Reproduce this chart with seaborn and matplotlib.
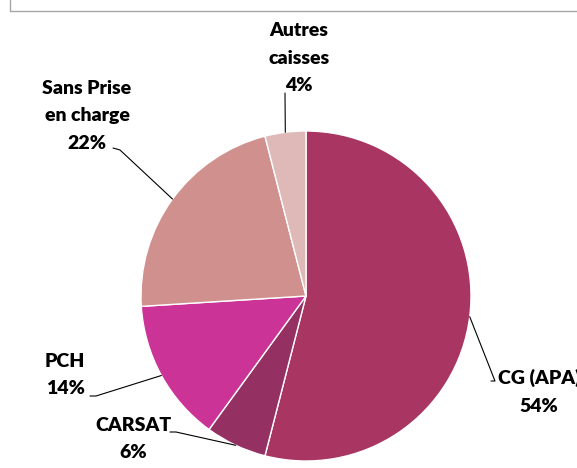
import numpy as np
import matplotlib
matplotlib.use("Agg")
import matplotlib.pyplot as plt
import seaborn as sns

# data
labels = ["CG (APA)", "CARSAT", "PCH", "Sans Prise\nen charge", "Autres\ncaisses"]
shares = [54, 6, 14, 22, 4]
colors = ["#A83562", "#953063", "#CB3397", "#D0908E", "#DFB8B8"]

sns.set_style("white")
plt.rcParams["font.family"] = ["Lato", "DejaVu Sans"]

W, H = 577, 468
fig = plt.figure(figsize=(W / 100, H / 100), dpi=100)
ax = fig.add_axes([0, 0, 1, 1])

cx, cy, r = 306, H - 296, 165
wedges, _ = ax.pie(shares, colors=colors, startangle=90, counterclock=False,
                   center=(cx, cy), radius=r, frame=True,
                   wedgeprops=dict(edgecolor="white", linewidth=1))
ax.set_xlim(0, W)
ax.set_ylim(0, H)
ax.set_aspect("equal")
ax.axis("off")

# frame border of the original chart area
ax.plot([9.5, 9.5], [H, H - 11], color="#A6A6A6", lw=1, clip_on=False)
ax.plot([9.5, W], [H - 11, H - 11], color="#A6A6A6", lw=1, clip_on=False)

# label positions (image coords: x, y of text centre) and leader start
label_pos = [(539, 392), (133, 439), (65, 375), (87, 116), (299, 58)]
leader_start = [(491, 381), (170, 432), (90, 396), (113, 148), (285, 93)]
stub = [(495, 381), (176, 432), (96, 396), (120, 150), (285, 93)]

for w, lab, s, (tx, ty), (sx, sy), (bx, by) in zip(
        wedges, labels, shares, label_pos, leader_start, stub):
    ang = np.deg2rad((w.theta1 + w.theta2) / 2)
    ex = cx + r * np.cos(ang)
    ey = cy + r * np.sin(ang)
    ax.text(tx, H - ty, f"{lab}\n{s}%", ha="center", va="center",
            fontsize=14, fontweight="heavy", linespacing=1.75, color="black")
    ax.plot([sx, bx, ex], [H - sy, H - by, ey], color="black", lw=0.8)

fig.savefig("out.png", dpi=100)
